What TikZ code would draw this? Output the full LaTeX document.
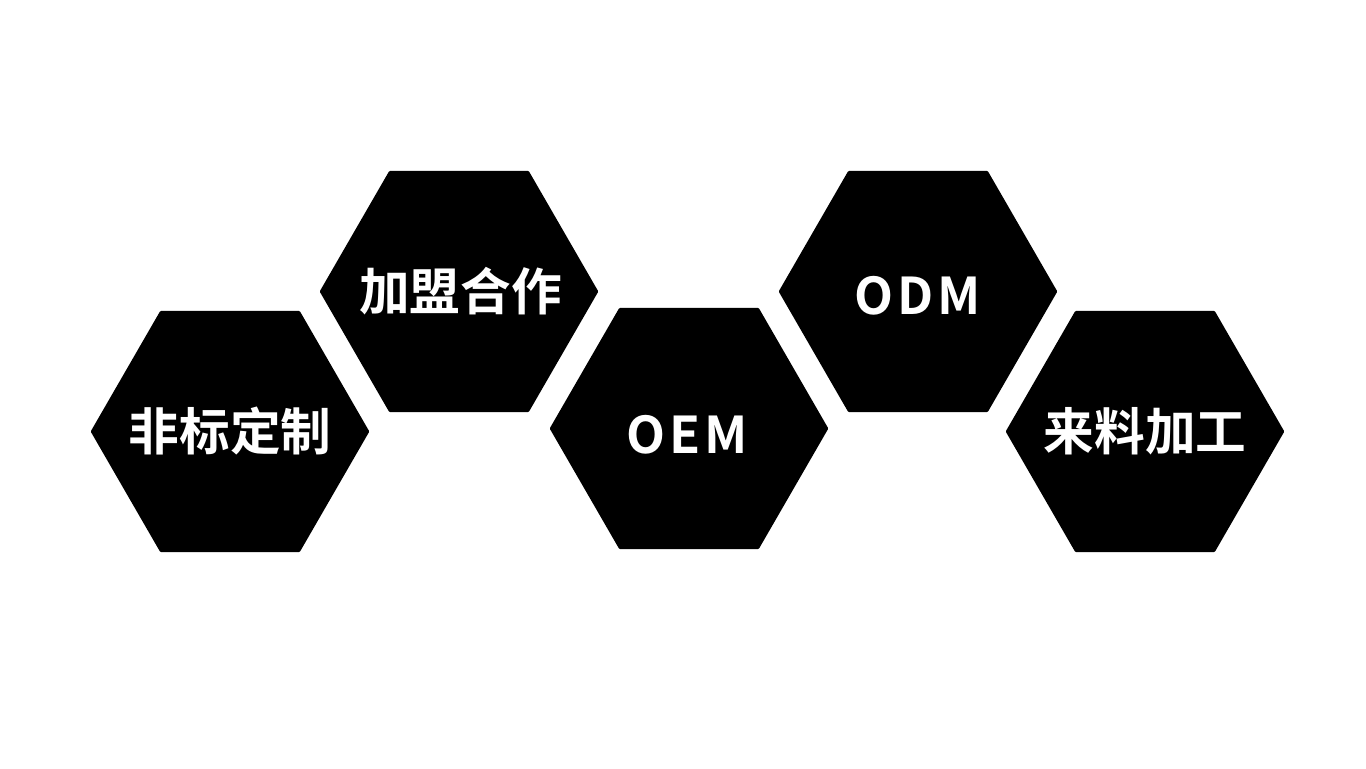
\documentclass[tikz,border=0pt]{standalone}
\usepackage{fontspec}
\newfontfamily\cjkfont{Noto Sans CJK SC}[BoldFont={Noto Sans CJK SC Bold}]
\usetikzlibrary{shapes.geometric}

\begin{document}
\begin{tikzpicture}[
x=0.75pt, y=-0.75pt,
hexnode/.style={regular polygon, regular polygon sides=6, draw=none, fill=black, inner sep=0pt, minimum size=209pt, rounded corners=0.8pt},
labelnode/.style={text=white, font=\cjkfont\bfseries\fontsize{38pt}{40pt}\selectfont, inner sep=0pt},
latinnode/.style={labelnode, font=\cjkfont\bfseries\fontsize{38pt}{40pt}\selectfont\addfontfeature{LetterSpace=8}},
]
\useasboundingbox (0,0) rectangle (1366,768);
%Nodes
\node[hexnode] (custom)  at (230,431.5)  {};
\node[hexnode] (join)    at (459,291.5)  {};
\node[hexnode] (oem)     at (689,428.5)  {};
\node[hexnode] (odm)     at (918,291.5)  {};
\node[hexnode] (process) at (1145,431.5) {};

%Labels
\node[labelnode] (customtext)  at (custom)  {非标定制};
\node[labelnode] (jointext)    at ([xshift=1pt]join.center) {加盟合作};
\node[latinnode] (oemtext)     at ([yshift=-4.5pt, xshift=-1.5pt]oem.center) {OEM};
\node[latinnode] (odmtext)     at ([yshift=-3pt, xshift=-0.5pt]odm.center)   {ODM};
\node[labelnode] (processtext) at (process) {来料加工};

\end{tikzpicture}
\end{document}
